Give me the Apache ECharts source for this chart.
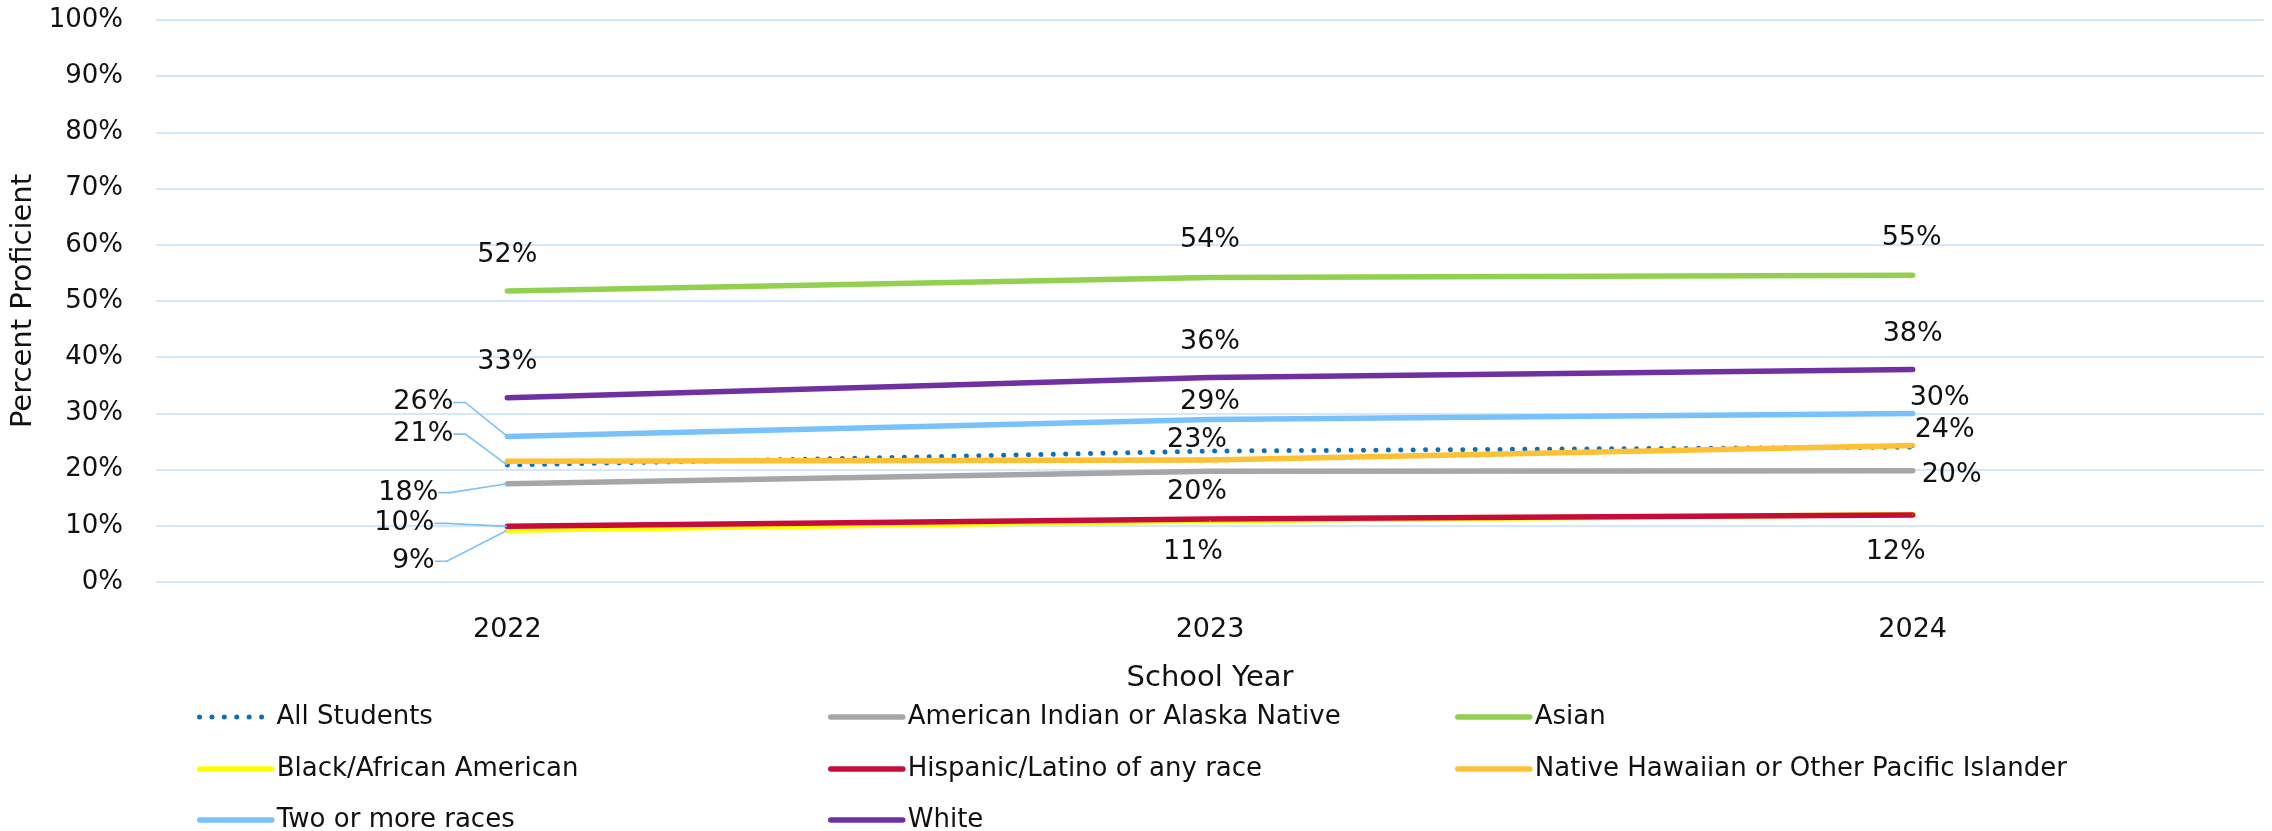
<!DOCTYPE html>
<html><head><meta charset="utf-8">
<script src="https://cdn.jsdelivr.net/npm/echarts@6/dist/echarts.min.js"></script>
<style>html,body{margin:0;padding:0;background:#fff}#c{width:2272px;height:831px}</style>
</head><body><div id="c"></div>
<script>
// ---- data ----
const years = ['2022', '2023', '2024'];
const allStudents = [20.8, 23.3, 24.0];
const amIndian    = [17.5, 19.7, 19.8];
const asian       = [51.8, 54.2, 54.6];
const black       = [9.2, 10.9, 12.0];
const hispanic    = [9.9, 11.2, 11.9];
const nhpi        = [21.5, 21.7, 24.3];
const twoOrMore   = [25.9, 28.9, 30.0];
const white       = [32.8, 36.4, 37.8];
const yMin = 0, yMax = 100, yStep = 10;

// ---- styles (label offsets relative to point, null = hidden, true = leader line) ----
const FONT = 'DejaVu Sans';
const seriesDefs = [
  {name: 'All Students', data: allStudents, color: '#0E6EB8', dotted: true,
   labels: [[-84, -31, true], [-13, -11], [32, -17]], legendPos: [197, 717]},
  {name: 'American Indian or Alaska Native', data: amIndian, color: '#A6A6A6',
   labels: [[-99, 9, true], [-13, 21], [39, 4]], legendPos: [828, 717]},
  {name: 'Asian', data: asian, color: '#92D050',
   labels: [[0, -36], [0, -37], [-1, -37]], legendPos: [1455, 717]},
  {name: 'Black/African American', data: black, color: '#FFFF00',
   labels: [[-94, 31, true], null, null], legendPos: [197, 769]},
  {name: 'Hispanic/Latino of any race', data: hispanic, color: '#C60C3C',
   labels: [[-103, -3, true], [-17, 33], [-17, 37]], legendPos: [828, 769]},
  {name: 'Native Hawaiian or Other Pacific Islander', data: nhpi, color: '#FFC134',
   labels: [null, null, null], legendPos: [1455, 769]},
  {name: 'Two or more races', data: twoOrMore, color: '#78C1FB',
   labels: [[-84, -34, true], [0, -18], [27, -15]], legendPos: [197, 820]},
  {name: 'White', data: white, color: '#7030A0',
   labels: [[0, -36], [0, -35], [0, -36]], legendPos: [828, 820]}
];
const PAD = 9;

const lineStyleOf = d => d.dotted
  ? {color: d.color, width: 5, type: [0.01, 12.4], cap: 'round'}
  : {color: d.color, width: 5.5, type: 'solid', cap: 'round', join: 'round'};

const series = seriesDefs.map(d => ({
  name: d.name,
  type: 'line',
  data: d.data.map((v, i) => {
    const l = d.labels[i];
    if (!l) return {value: v, label: {show: false}};
    if (l[2]) return {value: v, label: {show: true, padding: [0, PAD, 0, 0]}, labelLine: {show: true}};
    return {value: v};
  }),
  symbol: 'circle',
  symbolSize: 1,
  showSymbol: true,
  showAllSymbol: true,
  itemStyle: {color: d.color},
  lineStyle: lineStyleOf(d),
  label: {
    show: true, position: 'inside', fontFamily: FONT, fontSize: 27, color: '#111',
    formatter: p => Math.round(p.value) + '%'
  },
  labelLine: {show: false, length2: 12, lineStyle: {color: '#7DC1F7', width: 1.6}},
  labelLayout: p => {
    const l = d.labels[p.dataIndex];
    if (!l) return {};
    return {dx: l[2] ? l[0] + PAD / 2 : l[0], dy: l[1]};
  },
  emphasis: {disabled: true},
  animation: false
}));

const legends = seriesDefs.map(d => ({
  left: d.legendPos[0], top: d.legendPos[1] - 13, padding: 0,
  orient: 'horizontal', itemWidth: 72, itemHeight: 6,
  itemStyle: {opacity: 0},
  lineStyle: lineStyleOf(d),
  textStyle: {fontFamily: FONT, fontSize: 26, color: '#111', lineHeight: 26},
  selectedMode: false,
  data: [d.name]
}));

const chart = echarts.init(document.getElementById('c'), null, {renderer: 'canvas'});
chart.setOption({
  backgroundColor: '#fff',
  animation: false,
  grid: {left: 156, right: 8, top: 20, bottom: 249, containLabel: false},
  xAxis: {
    type: 'category', data: years, boundaryGap: true,
    axisLine: {show: false}, axisTick: {show: false},
    axisLabel: {fontFamily: FONT, fontSize: 27, color: '#111', margin: 34},
    name: 'School Year', nameLocation: 'middle', nameGap: 82,
    nameTextStyle: {fontFamily: FONT, fontSize: 29, color: '#111'}
  },
  yAxis: {
    type: 'value', min: yMin, max: yMax, interval: yStep,
    axisLine: {show: false}, axisTick: {show: false},
    axisLabel: {fontFamily: FONT, fontSize: 26, color: '#111', margin: 33, formatter: '{value}%'},
    splitLine: {lineStyle: {color: '#C5E2FA', width: 1.5}},
    name: 'Percent Proficient', nameLocation: 'middle', nameGap: 116, nameRotate: 90,
    nameTextStyle: {fontFamily: FONT, fontSize: 29, color: '#111'}
  },
  legend: legends,
  series: series
});
</script></body></html>
